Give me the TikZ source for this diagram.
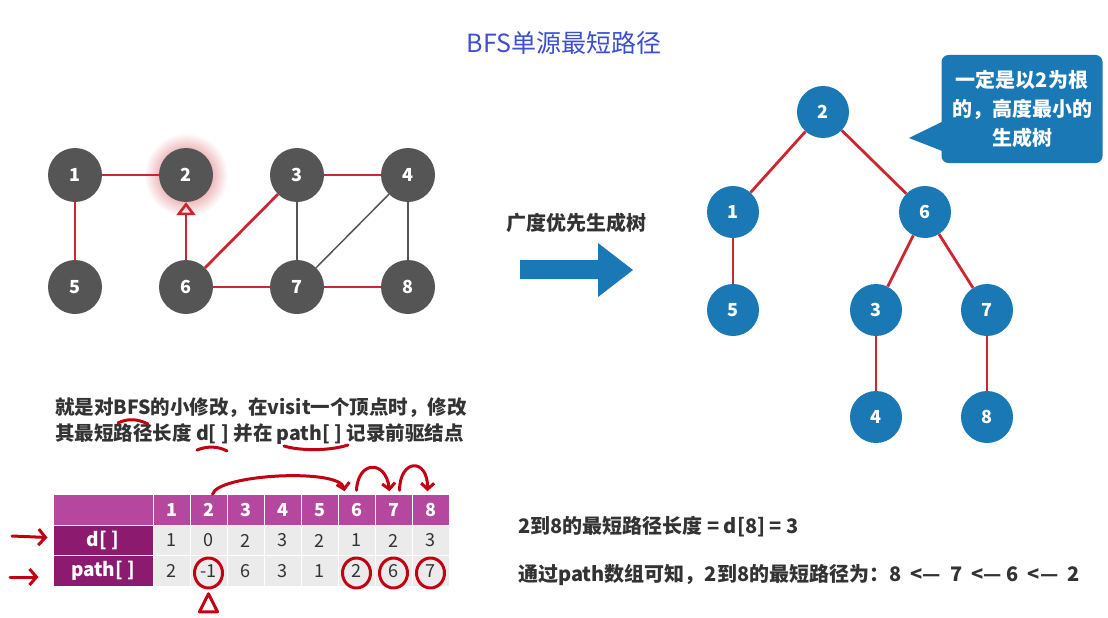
\documentclass[tikz,border=0pt]{standalone}
\usepackage{fontspec}
\usepackage{tikz}
\usetikzlibrary{arrows.meta, calc}
\newfontfamily\cjk{Noto Sans CJK SC}
\newcommand{\textsz}[2]{\fontsize{#1}{#2}\selectfont}
\definecolor{nodegray}{HTML}{555555}
\definecolor{treeblue}{HTML}{1A78B4}
\definecolor{edgered}{HTML}{CC2630}
\definecolor{penred}{HTML}{C20012}
\definecolor{headpurple}{HTML}{B5479E}
\definecolor{labpurple}{HTML}{8C1A6E}
\definecolor{cellgray}{HTML}{EBEBEB}
\definecolor{txtgray}{HTML}{333333}
\definecolor{titleblue}{HTML}{3D4FD0}

\begin{document}
\begin{tikzpicture}[x=1pt, y=-1pt, font=\cjk, >=Stealth,
  gnode/.style={circle, fill=nodegray, text=white, minimum size=54pt, inner sep=0pt, font=\cjk\bfseries\textsz{18}{18}},
  tnode/.style={gnode, fill=treeblue, minimum size=52pt},
  redge/.style={draw=edgered, line width=2.8pt},
  gedge/.style={draw=nodegray, line width=2.5pt},
  pen/.style={draw=penred, line width=3pt, line cap=round, line join=round},
  pentip/.style={pen, -{Straight Barb[length=6pt, width=13pt]}},
  cell/.style={rectangle, draw=white, line width=1pt, minimum width=37pt, minimum height=30.5pt, inner sep=0pt, font=\cjk\textsz{18}{18}},
  hcell/.style={cell, fill=headpurple, text=white, font=\cjk\bfseries\textsz{18}{18}},
  dcell/.style={cell, fill=cellgray, text=txtgray},
  lcell/.style={cell, fill=labpurple, text=white, minimum width=100pt, font=\cjk\bfseries\textsz{19}{19}},
  said/.style={text=txtgray, inner sep=0pt, anchor=west, font=\cjk\bfseries\textsz{20}{26}}]

\fill[white] (0,0) rectangle (1108,618);

\node[text=titleblue, font=\cjk\textsz{25}{25}] (title) at (564,43) {BFS单源最短路径};

% the graph, 2 glowing
\coordinate (c2) at (186,175);
\shade[inner color=edgered!85, outer color=white] (c2) circle (42pt);
\node[gnode] (g1) at (75,175) {1};
\node[gnode] (g2) at (c2) {2};
\node[gnode] (g3) at (297,175) {3};
\node[gnode] (g4) at (408,175) {4};
\node[gnode] (g5) at (75,287) {5};
\node[gnode] (g6) at (186,287) {6};
\node[gnode] (g7) at (297,287) {7};
\node[gnode] (g8) at (408,287) {8};

\draw[redge] (g1) -- (g2);
\draw[redge] (g1) -- (g5);
\draw[redge] (g3) -- (g4);
\draw[redge] (g6) -- (g3);
\draw[redge] (g6) -- (g7);
\draw[redge] (g7) -- (g8);
\draw[gedge] (g3) -- (g7);
\draw[gedge] (g4) -- (g8);
\draw[gedge, line width=1.5pt] (g4) -- (g7);
\draw[redge, -{Triangle[open, length=13pt, width=19pt, line width=2.6pt]}] (g6) -- (g2);

% the big arrow
\node[said, anchor=center] (bfstree) at (576,223) {广度优先生成树};
\fill[treeblue] (520,260) -- (598,260) -- (598,243) -- (633,270) -- (598,297) -- (598,279) -- (520,279) -- cycle;

% the tree
\node[tnode] (t2) at (823,112) {2};
\node[tnode] (t1) at (733,212) {1};
\node[tnode] (t6) at (925,212) {6};
\node[tnode] (t5) at (733,310) {5};
\node[tnode] (t3) at (876,310) {3};
\node[tnode] (t7) at (987,310) {7};
\node[tnode] (t4) at (876,417) {4};
\node[tnode] (t8) at (987,417) {8};

\draw[redge] (t2) -- (t1);
\draw[redge] (t2) -- (t6);
\draw[redge] (t1) -- (t5);
\draw[redge] (t6) -- (t3);
\draw[redge] (t6) -- (t7);
\draw[redge] (t3) -- (t4);
\draw[redge] (t7) -- (t8);

% callout
\node[fill=treeblue, rounded corners=7pt, minimum width=161pt, minimum height=108pt, text=white, align=center, font=\cjk\bfseries\textsz{20}{29}] (note) at (1022,109) {一定是以2为根\\的，高度最小的\\生成树};
\fill[treeblue] ($(note.south west)+(4,-43)$) -- (909,138) -- ($(note.south west)+(4,-11)$) -- cycle;

% text, left
\node[said, align=left, font=\cjk\bfseries\textsz{19.5}{26}] (desc) at (55,421) {就是对BFS的小修改，在visit一个顶点时，修改\\其最短路径长度 d[ ] 并在 path[ ] 记录前驱结点};
\draw[pen] (118,423) .. controls (128,418) and (138,419) .. (148,424);
\draw[pen] (197,450) .. controls (207,446) and (218,446) .. (227,451);
\draw[pen] (284,446) .. controls (300,451) and (330,451) .. (348,445);

% the table
\node[hcell, minimum width=100pt] (hcorner) at (103,510) {};
\node[lcell] (dlab) at (103,540.5) {d[ ]};
\node[lcell] (plab) at (103,571) {path[ ]};
\foreach \v [count=\i] in {1,...,8}
  \node[hcell] (h\i) at ({134.5+37*\i},510) {\v};
\foreach \v [count=\i] in {1,0,2,3,2,1,2,3}
  \node[dcell] (d\i) at ({134.5+37*\i},540.5) {\v};
\foreach \v [count=\i] in {2,-1,6,3,1,2,6,7}
  \node[dcell] (p\i) at ({134.5+37*\i},571) {\v};

% pen marks on the table
\foreach \i in {2,6,7,8}
  \draw[pen] ($(p\i)+(0,2)$) ellipse (14pt and 15pt);
\draw[pen] ($(p2.south)+(0,7)$) -- ++(-9,18) -- ++(18,0) -- cycle;
\draw[pentip] ($(h2.north)+(4,0)$) .. controls (218,474) and (340,468) .. ($(h6.north)+(-12,-3)$);
\draw[pentip] ($(h6.north)+(0,-4)$) .. controls (358,460) and (386,460) .. ($(h7.north)+(-4,-3)$);
\draw[pentip] ($(h7.north)+(6,-4)$) .. controls (400,458) and (428,458) .. ($(h8.north)+(-3,-3)$);
\coordinate (dfrom) at (12,536);
\coordinate (pfrom) at (10,577);
\draw[pen, -{Straight Barb[length=7pt, width=16pt]}] (dfrom) -- ($(dlab.west)+(-5,-3)$);
\draw[pen, -{Straight Barb[length=7pt, width=16pt]}] (pfrom) -- ($(plab.west)+(-14,6)$);

% text, right
\node[said] (len) at (518,527) {2到8的最短路径长度 = d[8] = 3};
\node[said] (route) at (518,575) {通过path数组可知，2到8的最短路径为：8 \ <— \ 7 \ <— 6 \ <— \ 2};

\end{tikzpicture}
\end{document}
